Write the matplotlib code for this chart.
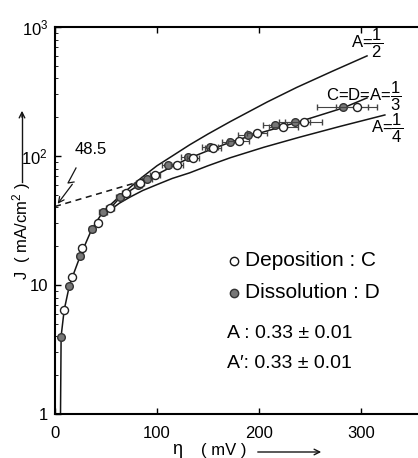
import numpy as np
import matplotlib.pyplot as plt
from matplotlib.lines import Line2D
from matplotlib.ticker import FixedLocator, FixedFormatter, NullFormatter

plt.rcParams['font.family'] = ['Liberation Sans', 'DejaVu Sans']
plt.rcParams['mathtext.fontset'] = 'custom'
plt.rcParams['mathtext.rm'] = 'Liberation Sans'
plt.rcParams['mathtext.it'] = 'Liberation Sans'

# deposition (open circles), eta in mV, J in mA/cm2
dep_eta = [8.8, 16.7, 26.5, 42, 54, 70, 83, 98, 120, 135, 155, 180, 198, 224, 244, 296]
dep_J = [6.4, 11.5, 19.4, 30.2, 39.5, 51.7, 61.7, 71, 85, 96, 116, 131, 151, 168, 184, 240]
dep_err = [2, 2, 3, 3, 4, 4, 4, 5, 6, 6, 8, 10, 10, 14, 18, 20]

# dissolution (filled circles)
dis_eta = [5.9, 13.7, 24.5, 36, 47, 64, 81, 90, 111, 130, 152, 172, 189, 216, 235, 282]
dis_J = [3.95, 9.8, 16.8, 27.2, 36.8, 48, 59.6, 66, 85, 98, 117, 128, 146, 174, 184, 240]
dis_err = [2, 2, 3, 3, 4, 4, 4, 5, 6, 6, 8, 8, 10, 12, 15, 25]

# theoretical curves
a13_eta = [5.4, 6, 9, 14, 17, 25, 36, 47, 60, 80, 100, 115, 130, 150, 172, 200, 240, 282, 306]
a13_J = [1.0, 4, 6.4, 9.8, 11.5, 17, 27, 37, 46, 58, 72, 83, 95, 110, 128, 150, 185, 235, 282]
a12_eta = [55, 62, 70, 85, 100, 115, 132, 150, 172, 208, 237, 272, 306]
a12_J = [40, 46, 54, 68, 84, 100, 122, 148, 185, 262, 340, 454, 597]
a14_eta = [54, 63, 73.5, 86, 100, 115, 132, 150, 172, 205, 240, 280, 323.5]
a14_J = [38, 43, 48, 54, 60, 67, 74, 84, 97, 117, 140, 170, 208]

# Tafel extrapolation (dashed)
tafel_eta = [0, 85]
tafel_J = [40.6, 64]

W, H = 418, 458
fig = plt.figure(figsize=(W / 100, H / 100), dpi=100)


def fx(x):
    return x / W


def fy(y):
    return 1 - y / H


ax = fig.add_axes([fx(55), fy(414), 1 - fx(55), fy(27) - fy(414)])
ax.set_yscale('log')
ax.set_xlim(0, 356)
ax.set_ylim(1, 1000)

k = '#151515'
ax.plot(a13_eta, a13_J, color=k, lw=1.1)
ax.plot(a12_eta, a12_J, color=k, lw=1.1)
ax.plot(a14_eta, a14_J, color=k, lw=1.1)
ax.plot(tafel_eta, tafel_J, color=k, lw=1.1, ls=(0, (4, 3)))

ax.errorbar(dis_eta, dis_J, xerr=dis_err, fmt='o', ms=5.5, mfc='#777777', mec='#333333',
            ecolor='#444444', elinewidth=0.8, capsize=2, zorder=3)
ax.errorbar(dep_eta, dep_J, xerr=dep_err, fmt='o', ms=5.8, mfc='white', mec='#222222',
            ecolor='#444444', elinewidth=0.8, capsize=2, zorder=4)

for s in ['left', 'bottom', 'top']:
    ax.spines[s].set_linewidth(1.5)
ax.spines['right'].set_visible(False)

ax.xaxis.set_major_locator(FixedLocator([0, 100, 200, 300]))
ax.yaxis.set_major_locator(FixedLocator([1, 10, 100, 1000]))
ax.yaxis.set_major_formatter(FixedFormatter(['1', '10', '$10^2$', '$10^3$']))
ax.yaxis.set_minor_formatter(NullFormatter())
ax.tick_params(axis='both', which='major', direction='in', length=4, width=1,
               labelsize=12, top=True, right=False)
ax.tick_params(axis='x', pad=9)
ax.tick_params(axis='y', pad=5)
ax.tick_params(axis='y', which='minor', direction='in', length=2, width=0.6)

# axis labels
fig.text(fx(22), fy(231), 'J  ( mA/cm$^2$ )', rotation=90, ha='center', va='center', fontsize=12)
fig.add_artist(plt.Line2D([fx(22), fx(22)], [fy(182), fy(114)], color=k, lw=1))
ax.annotate('', xy=(fx(22), fy(108)), xytext=(fx(22), fy(120)), xycoords='figure fraction',
            arrowprops=dict(arrowstyle='->', color=k, lw=1))
fig.text(fx(177), fy(450), 'η', ha='center', va='center', fontsize=13)
fig.text(fx(224), fy(450), '( mV )', ha='center', va='center', fontsize=12)
ax.annotate('', xy=(fx(324), fy(452)), xytext=(fx(255), fy(452)), xycoords='figure fraction',
            arrowprops=dict(arrowstyle='->', color=k, lw=1))

# curve labels
fig.text(fx(351), fy(43), r'A=$\dfrac{1}{2}$', ha='left', va='center', fontsize=12)
fig.text(fx(326), fy(96), r'C=D=A=$\dfrac{1}{3}$', ha='left', va='center', fontsize=12)
fig.text(fx(371), fy(128), r'A=$\dfrac{1}{4}$', ha='left', va='center', fontsize=12)

# 48.5 with zigzag arrow
fig.text(fx(91), fy(150), '48.5', ha='center', va='center', fontsize=12)
fig.add_artist(Line2D([fx(76), fx(68), fx(74)], [fy(168), fy(183), fy(182)], color=k, lw=0.9))
ax.annotate('', xy=(fx(56), fy(206)), xytext=(fx(74), fy(182)), xycoords='figure fraction',
            arrowprops=dict(arrowstyle='->', color=k, lw=0.9))

# legend / notes
fig.add_artist(Line2D([fx(234)], [fy(261)], marker='o', ms=6, mfc='white', mec=k, ls='none'))
fig.add_artist(Line2D([fx(234)], [fy(293)], marker='o', ms=6, mfc='#777777', mec='#333333', ls='none'))
fig.text(fx(245), fy(261), 'Deposition : C', ha='left', va='center', fontsize=15)
fig.text(fx(245), fy(293), 'Dissolution : D', ha='left', va='center', fontsize=15)
fig.text(fx(227), fy(334), 'A : 0.33 ± 0.01', ha='left', va='center', fontsize=14)
fig.text(fx(227), fy(364), "A′: 0.33 ± 0.01", ha='left', va='center', fontsize=14)

fig.savefig('out.png', dpi=100)
